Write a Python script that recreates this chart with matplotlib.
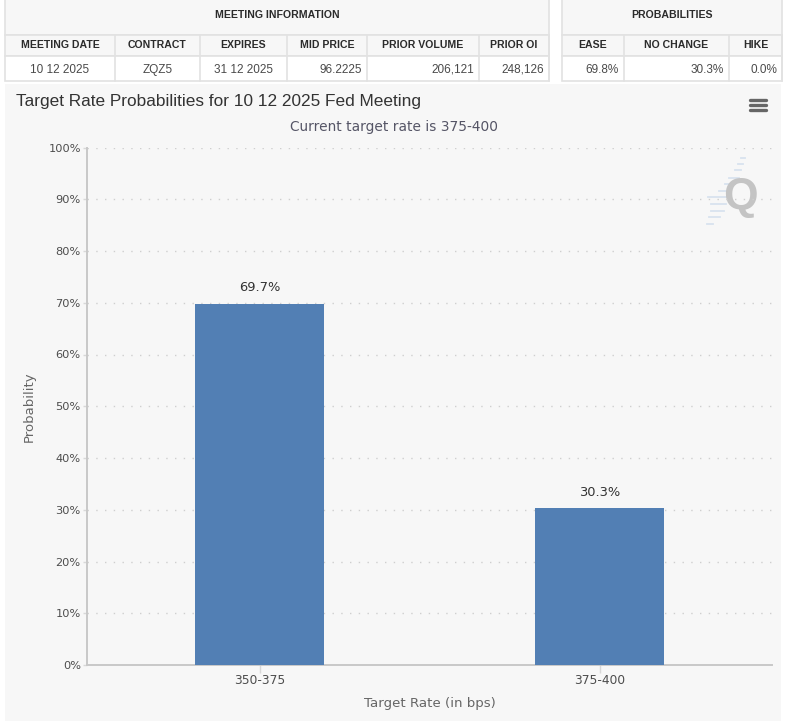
import matplotlib
matplotlib.use("Agg")
import matplotlib.pyplot as plt
from matplotlib.patches import Rectangle
from matplotlib.ticker import FuncFormatter

W, H = 800, 721
categories = ["350-375", "375-400"]
probabilities = [69.7, 30.3]
bar_labels = ["69.7%", "30.3%"]
y_ticks = [0, 10, 20, 30, 40, 50, 60, 70, 80, 90, 100]

info_headers = ["MEETING DATE", "CONTRACT", "EXPIRES", "MID PRICE", "PRIOR VOLUME", "PRIOR OI"]
info_values = ["10 12 2025", "ZQZ5", "31 12 2025", "96.2225", "206,121", "248,126"]
info_align = ["center", "center", "center", "right", "right", "right"]
info_edges = [5, 115, 200, 287, 367, 479, 549]
prob_headers = ["EASE", "NO CHANGE", "HIKE"]
prob_values = ["69.8%", "30.3%", "0.0%"]
prob_align = ["right", "right", "right"]
prob_edges = [562, 624, 729, 782]

BG = "#f7f7f7"
BORDER = "#e2e2e2"
fig = plt.figure(figsize=(W / 100, H / 100), dpi=100, facecolor="white")

# Overlay in pixel coordinates for the page furniture
page = fig.add_axes([0, 0, 1, 1], zorder=0)
page.set_xlim(0, W)
page.set_ylim(H, 0)
page.axis("off")

page.add_patch(Rectangle((5, 84), 776, H - 84, facecolor=BG, edgecolor="none"))


def table(edges, title, headers, values, aligns):
    x0, x1 = edges[0], edges[-1]
    page.add_patch(Rectangle((x0, -2), x1 - x0, 37, fc=BG, ec=BORDER, lw=1.2))
    page.add_patch(Rectangle((x0, 35), x1 - x0, 21, fc=BG, ec=BORDER, lw=1.2))
    page.add_patch(Rectangle((x0, 56), x1 - x0, 24.5, fc="white", ec=BORDER, lw=1.2))
    page.text((x0 + x1) / 2, 15.5, title, ha="center", va="center", fontsize=7.6,
              fontweight="bold", family="Liberation Sans", color="#2b2b2b")
    for i, (h, v, a) in enumerate(zip(headers, values, aligns)):
        l, r = edges[i], edges[i + 1]
        page.plot([r, r], [35, 80.5], color=BORDER, lw=1.2)
        page.text((l + r) / 2, 45.5, h, ha="center", va="center", fontsize=7.6,
                  fontweight="bold", family="Liberation Sans", color="#2b2b2b")
        px = (l + r) / 2 if a == "center" else r - 5
        page.text(px, 68.5, v, ha=a, va="center_baseline", fontsize=8.5,
                  family="Liberation Sans", color="#4a4a4a")


table(info_edges, "MEETING INFORMATION", info_headers, info_values, info_align)
table(prob_edges, "PROBABILITIES", prob_headers, prob_values, prob_align)

page.text(16, 101.5, "Target Rate Probabilities for 10 12 2025 Fed Meeting", ha="left", va="center",
          fontsize=12.4, family="Liberation Sans", color="#333333")
page.text(394, 127, "Current target rate is 375-400", ha="center", va="center",
          fontsize=9.9, family="DejaVu Sans", color="#555566")

# menu icon
for yy in (99.5, 104.5, 110):
    page.plot([750, 766], [yy, yy], color="#666666", lw=2.4, solid_capstyle="round")

# watermark
for yy, a, b in [(158, 741, 745), (164, 738, 743), (170, 735, 741), (178, 729, 739), (184, 725, 735),
                 (191, 719, 731), (197, 708, 728), (204, 711, 726), (211, 711, 724), (217, 709, 720),
                 (224, 707, 713)]:
    page.plot([a, b], [yy, yy], color="#d8e3ef", lw=1.3)
page.text(740, 197, "Q", ha="center", va="center", fontsize=32, fontweight="bold",
          family="Liberation Sans", color="#c4c4c4")

# Chart axes
left, right, top, bottom = 87, 772, 147.5, 665
ax = fig.add_axes([left / W, 1 - bottom / H, (right - left) / W, (bottom - top) / H], zorder=1)
ax.patch.set_alpha(0)
positions = list(range(len(categories)))
ax.bar(positions, probabilities, width=129 / 340, color="#527fb4", zorder=3)
ax.set_xlim((left - 259.5) / 340, (right - 259.5) / 340)
ax.set_ylim(0, 100)
ax.set_yticks(y_ticks)
ax.yaxis.set_major_formatter(FuncFormatter(lambda v, _: f"{v:.0f}%"))
ax.set_xticks(positions)
ax.set_xticklabels(categories)
ax.grid(axis="y", color="#cfcfcf", lw=1, linestyle=(0, (1, 5.3)), zorder=1)
ax.set_axisbelow(True)
for s in ("top", "right"):
    ax.spines[s].set_visible(False)
for s in ("left", "bottom"):
    ax.spines[s].set_color("#c8c8c8")
    ax.spines[s].set_linewidth(1.4)
ax.tick_params(axis="y", length=3, width=1, color="#d8d8d8", labelsize=8.2, labelcolor="#4d4d4d", pad=1.5)
ax.tick_params(axis="x", length=6, width=1, color="#d8d8d8", labelsize=8.8, labelcolor="#4d4d4d", pad=0.5)
for lab in ax.get_yticklabels() + ax.get_xticklabels():
    lab.set_family("DejaVu Sans")
label_offsets = [7.2, 6.6]
for x, v, t, off in zip(positions, probabilities, bar_labels, label_offsets):
    ax.annotate(t, (x, v), xytext=(0, off), textcoords="offset points", ha="center", va="bottom",
                fontsize=9.4, color="#333333", family="DejaVu Sans")
ax.set_xlabel("Target Rate (in bps)", fontsize=9.6, color="#666666", labelpad=7.5)
ax.set_ylabel("Probability", fontsize=9.5, color="#666666", labelpad=9)
ax.xaxis.label.set_x((430 - left) / (right - left))

fig.savefig("out.png", dpi=100, facecolor="white")
